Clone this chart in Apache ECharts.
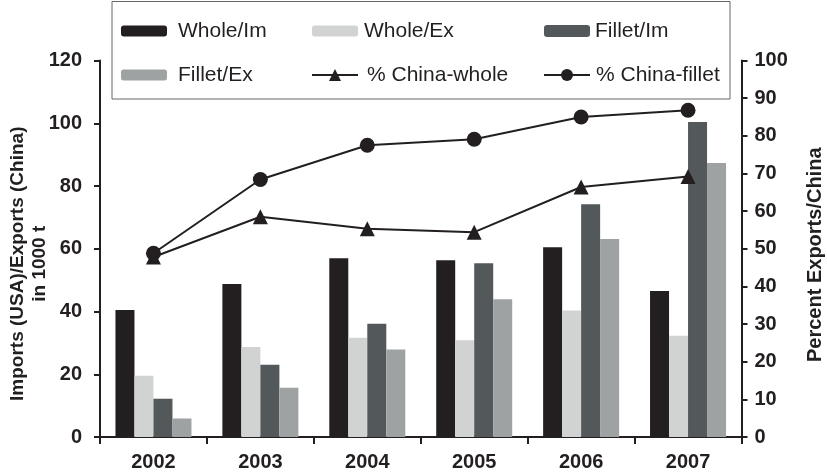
<!DOCTYPE html>
<html>
<head>
<meta charset="utf-8">
<script src="https://cdn.jsdelivr.net/npm/echarts@6/dist/echarts.min.js"></script>
<style>html,body{margin:0;padding:0;background:#fff}#c{width:827px;height:475px}</style>
</head>
<body>
<div id="c"></div>
<script>
const categories = ['2002', '2003', '2004', '2005', '2006', '2007'];
const wholeIm = [40.5, 48.8, 57.0, 56.3, 60.5, 46.5];
const wholeEx = [19.5, 28.7, 31.6, 30.8, 40.3, 32.3];
const filletIm = [12.2, 23.0, 36.1, 55.4, 74.2, 100.4];
const filletEx = [5.9, 15.7, 27.9, 43.9, 63.1, 87.3];
const pctWhole = [47.8, 58.5, 55.3, 54.4, 66.4, 69.2];
const pctFillet = [48.8, 68.4, 77.5, 79.1, 85.0, 86.8];
const leftTicks = [0, 20, 40, 60, 80, 100, 120];
const rightTicks = [0, 10, 20, 30, 40, 50, 60, 70, 80, 90, 100];

const FONT = 'Liberation Sans';
const INK = '#231f20';
const chart = echarts.init(document.getElementById('c'));
const barNames = ['Whole/Im', 'Whole/Ex', 'Fillet/Im', 'Fillet/Ex'];
const barData = [wholeIm, wholeEx, filletIm, filletEx];
const barColors = ['#231f20', '#d1d3d2', '#53585b', '#9ea2a2'];

const series = barNames.map((n, i) => ({
  name: n, type: 'bar', data: barData[i], barWidth: 19, barGap: '0%',
  itemStyle: { color: barColors[i] }, yAxisIndex: 0, z: 2
}));
series.push({
  name: '% China-whole', type: 'line', yAxisIndex: 1, data: pctWhole,
  symbol: 'triangle', symbolSize: 15, lineStyle: { color: INK, width: 2 },
  itemStyle: { color: INK }, z: 5
});
series.push({
  name: '% China-fillet', type: 'line', yAxisIndex: 1, data: pctFillet,
  symbol: 'circle', symbolSize: 15, lineStyle: { color: INK, width: 2 },
  itemStyle: { color: INK }, z: 5
});

// name, left, centerY, itemHeight, text gap
const legendPos = [
  ['Whole/Im', 121, 31, 11, 6], ['Whole/Ex', 312, 31, 11, 1], ['Fillet/Im', 544, 31, 12, 0],
  ['Fillet/Ex', 121, 75, 11, 6], ['% China-whole', 311, 75, 15, 4], ['% China-fillet', 543, 75, 15, 1]
];
const legends = legendPos.map(([n, x, cy, h, g]) => ({
  data: [n], left: x, top: cy - 12, itemWidth: 46, itemHeight: h, itemGap: 0,
  padding: 0, selectedMode: false,
  textStyle: { fontFamily: FONT, fontSize: 21, color: INK, lineHeight: 24, padding: [0, 0, 0, g] }
}));

const labelStyle = { fontFamily: FONT, fontSize: 20, fontWeight: 'bold', color: INK };

chart.setOption({
  animation: false,
  backgroundColor: '#fff',
  textStyle: { fontFamily: FONT },
  grid: { left: 100, right: 85.5, top: 60.5, bottom: 38, outerBoundsMode: 'none', containLabel: false },
  legend: legends,
  graphic: [{
    type: 'rect', shape: { x: 112, y: 1.5, width: 618, height: 97.5 },
    style: { fill: 'none', stroke: '#666', lineWidth: 1 }, silent: true
  }],
  xAxis: {
    type: 'category', data: categories,
    axisLine: { lineStyle: { color: INK, width: 2 } },
    axisTick: { show: true, length: 7, lineStyle: { color: INK, width: 2 } },
    axisLabel: Object.assign({ margin: 15 }, labelStyle)
  },
  yAxis: [{
    type: 'value', min: 0, max: 120, interval: 20, position: 'left',
    name: 'Imports (USA)/Exports (China)\nin 1000 t', nameLocation: 'middle', nameGap: 49,
    nameMoveOverlap: false,
    nameTextStyle: Object.assign({}, labelStyle, { fontSize: 19, lineHeight: 22, padding: [0, 30, 0, 0] }),
    axisLine: { show: true, lineStyle: { color: INK, width: 2 } },
    axisTick: { show: true, length: 6, lineStyle: { color: INK, width: 2 } },
    axisLabel: Object.assign({ margin: 18, formatter: v => leftTicks.includes(v) ? String(v) : '' }, labelStyle),
    splitLine: { show: false }
  }, {
    type: 'value', min: 0, max: 100, interval: 10, position: 'right',
    name: 'Percent Exports/China', nameLocation: 'middle', nameGap: 64,
    nameMoveOverlap: false,
    nameTextStyle: Object.assign({ padding: [0, 12, 0, 0] }, labelStyle),
    axisLine: { show: true, lineStyle: { color: INK, width: 2 } },
    axisTick: { show: true, length: 6, lineStyle: { color: INK, width: 2 } },
    axisLabel: Object.assign({ margin: 13, formatter: v => rightTicks.includes(v) ? String(v) : '' }, labelStyle),
    splitLine: { show: false }
  }],
  series: series
});
</script>
</body>
</html>
